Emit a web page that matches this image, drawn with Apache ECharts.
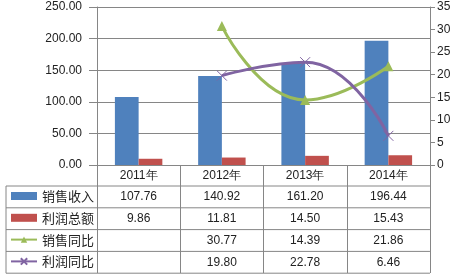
<!DOCTYPE html>
<html><head><meta charset="utf-8">
<script src="https://cdn.jsdelivr.net/npm/echarts@6/dist/echarts.min.js"></script>
<style>html,body{margin:0;padding:0;background:#fff}#c{width:459px;height:277px}</style>
</head><body><div id="c"></div>
<script>
var categories = ['2011年', '2012年', '2013年', '2014年'];
var seriesNames = ['销售收入', '利润总额', '销售同比', '利润同比'];
var sales = [107.76, 140.92, 161.20, 196.44];
var profit = [9.86, 11.81, 14.50, 15.43];
var salesYoY = [null, 30.77, 14.39, 21.86];
var profitYoY = [null, 19.80, 22.78, 6.46];
var tableText = [
  ['107.76', '140.92', '161.20', '196.44'],
  ['9.86', '11.81', '14.50', '15.43'],
  ['', '30.77', '14.39', '21.86'],
  ['', '19.80', '22.78', '6.46']
];
var colors = ['#4F81BD', '#C0504D', '#9BBB59', '#8064A2'];

var numFont = 'Liberation Sans, Arial, sans-serif';
var cjkFont = 'Noto Sans CJK SC, sans-serif';
var gridColor = '#868686';

var chart = echarts.init(document.getElementById('c'), null, {renderer: 'canvas'});
var option = {
  animation: false,
  color: colors,
  grid: {left: 97, right: 29, top: 7, bottom: 112, containLabel: false},
  legend: {
    orient: 'vertical', left: 10, top: 189, padding: 0, itemGap: 7.8,
    height: 90,
    itemWidth: 26, itemHeight: 8,
    textStyle: {fontFamily: cjkFont, fontSize: 13, color: '#222', lineHeight: 14},
    data: [
      {name: seriesNames[0], icon: 'rect'},
      {name: seriesNames[1], icon: 'rect'},
      {name: seriesNames[2]},
      {name: seriesNames[3]}
    ]
  },
  xAxis: {
    type: 'category', data: categories, boundaryGap: true,
    axisLine: {show: true, lineStyle: {color: gridColor, width: 1}},
    axisTick: {show: true, length: 108, lineStyle: {color: gridColor, width: 1}},
    axisLabel: {margin: 5, fontFamily: numFont, fontSize: 12, color: '#222'}
  },
  yAxis: [
    {
      type: 'value', min: 0, max: 250, interval: 50,
      axisLine: {show: true, lineStyle: {color: gridColor}},
      axisTick: {show: true, length: 8, lineStyle: {color: gridColor}},
      axisLabel: {margin: 15, fontFamily: numFont, fontSize: 12, color: '#222',
        formatter: function (v) { return v.toFixed(2); }},
      splitLine: {show: true, lineStyle: {color: gridColor, width: 1}}
    },
    {
      type: 'value', min: 0, max: 35, interval: 5, position: 'right',
      axisLine: {show: true, lineStyle: {color: gridColor}},
      axisTick: {show: true, length: 5, lineStyle: {color: gridColor}},
      axisLabel: {margin: 7, fontFamily: numFont, fontSize: 12, color: '#222'},
      splitLine: {show: false}
    }
  ],
  series: [
    {name: seriesNames[0], type: 'bar', data: sales, barGap: '0%', barCategoryGap: '43%',
      itemStyle: {color: colors[0]}},
    {name: seriesNames[1], type: 'bar', data: profit, barGap: '0%', barCategoryGap: '43%',
      itemStyle: {color: colors[1]}},
    {name: seriesNames[2], type: 'line', yAxisIndex: 1, data: salesYoY, smooth: 0.5,
      symbol: 'triangle', symbolSize: 10,
      lineStyle: {color: colors[2], width: 3}, itemStyle: {color: colors[2]}},
    {name: seriesNames[3], type: 'line', yAxisIndex: 1, data: profitYoY, smooth: 0.5,
      symbol: 'path://M0,0L10,10M10,0L0,10', symbolSize: 10,
      lineStyle: {color: colors[3], width: 3},
      itemStyle: {color: 'none', borderColor: colors[3], borderWidth: 1}}
  ]
};
chart.setOption(option);

// table below the plot
var tableLeft = 6, rowTop = 186, rowH = 21.8;
var tableRight = chart.convertToPixel({xAxisIndex: 0}, categories[categories.length - 1]) + 41.6;
var g = [];
for (var r = 0; r <= tableText.length; r++) {
  var y = rowTop + r * rowH;
  g.push({type: 'line', shape: {x1: tableLeft, y1: y, x2: tableRight, y2: y},
    style: {stroke: gridColor, lineWidth: 1}});
}
g.push({type: 'line', shape: {x1: tableLeft, y1: rowTop, x2: tableLeft, y2: rowTop + tableText.length * rowH},
  style: {stroke: gridColor, lineWidth: 1}});
for (var r = 0; r < tableText.length; r++) {
  for (var c = 0; c < categories.length; c++) {
    var x = chart.convertToPixel({xAxisIndex: 0}, categories[c]);
    g.push({type: 'text', x: x, y: rowTop + r * rowH + rowH / 2,
      style: {text: tableText[r][c], fontFamily: numFont, fontSize: 12, fill: '#222',
        align: 'center', verticalAlign: 'middle'}});
  }
}
chart.setOption({graphic: g});
</script>
</body></html>
